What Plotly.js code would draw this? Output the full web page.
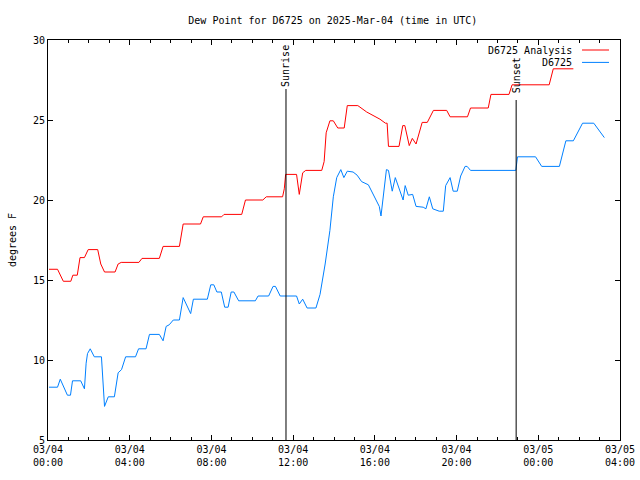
<!DOCTYPE html>
<html>
<head>
<meta charset="utf-8">
<script src="https://cdn.plot.ly/plotly-3.0.1.min.js"></script>
<style>html,body{margin:0;padding:0;background:#fff;}#chart{width:640px;height:480px;}</style>
</head>
<body>
<div id="chart"></div>
<script>
const analysisTimes = ["2025-03-04 00:03","2025-03-04 00:28","2025-03-04 00:45","2025-03-04 01:07","2025-03-04 01:13","2025-03-04 01:26","2025-03-04 01:34","2025-03-04 01:47","2025-03-04 01:58","2025-03-04 02:26","2025-03-04 02:35","2025-03-04 02:46","2025-03-04 03:17","2025-03-04 03:26","2025-03-04 03:35","2025-03-04 04:27","2025-03-04 04:36","2025-03-04 05:27","2025-03-04 05:38","2025-03-04 06:26","2025-03-04 06:37","2025-03-04 07:28","2025-03-04 07:36","2025-03-04 08:30","2025-03-04 08:37","2025-03-04 09:29","2025-03-04 09:40","2025-03-04 10:31","2025-03-04 10:41","2025-03-04 11:29","2025-03-04 11:34","2025-03-04 11:38","2025-03-04 12:10","2025-03-04 12:18","2025-03-04 12:28","2025-03-04 12:37","2025-03-04 13:24","2025-03-04 13:31","2025-03-04 13:37","2025-03-04 13:48","2025-03-04 13:58","2025-03-04 14:11","2025-03-04 14:30","2025-03-04 14:39","2025-03-04 15:10","2025-03-04 15:36","2025-03-04 16:15","2025-03-04 16:31","2025-03-04 16:36","2025-03-04 16:40","2025-03-04 17:11","2025-03-04 17:22","2025-03-04 17:28","2025-03-04 17:41","2025-03-04 17:50","2025-03-04 18:01","2025-03-04 18:19","2025-03-04 18:34","2025-03-04 18:52","2025-03-04 19:31","2025-03-04 19:41","2025-03-04 20:32","2025-03-04 20:41","2025-03-04 21:33","2025-03-04 21:41","2025-03-04 22:34","2025-03-04 22:43","2025-03-05 00:32","2025-03-05 00:44","2025-03-05 01:43"];
const analysisValues = [15.67,15.67,14.92,14.92,15.3,15.3,16.4,16.4,16.9,16.9,16.0,15.5,15.5,16.0,16.1,16.1,16.35,16.35,17.1,17.1,18.5,18.5,18.95,18.95,19.1,19.1,20.0,20.0,20.2,20.2,20.7,21.6,21.6,20.35,21.7,21.85,21.85,22.4,24.2,24.95,24.95,24.5,24.5,25.9,25.9,25.5,25.05,24.8,24.8,23.35,23.35,24.65,24.65,23.4,23.85,23.5,24.85,24.85,25.6,25.6,25.2,25.2,25.75,25.75,26.6,26.6,27.2,27.2,28.2,28.2];

const stationTimes = ["2025-03-04 00:03","2025-03-04 00:28","2025-03-04 00:36","2025-03-04 00:57","2025-03-04 01:06","2025-03-04 01:12","2025-03-04 01:36","2025-03-04 01:47","2025-03-04 01:52","2025-03-04 01:56","2025-03-04 02:04","2025-03-04 02:16","2025-03-04 02:37","2025-03-04 02:46","2025-03-04 02:57","2025-03-04 03:15","2025-03-04 03:26","2025-03-04 03:36","2025-03-04 03:48","2025-03-04 04:17","2025-03-04 04:26","2025-03-04 04:48","2025-03-04 04:58","2025-03-04 05:27","2025-03-04 05:38","2025-03-04 05:47","2025-03-04 05:56","2025-03-04 06:08","2025-03-04 06:26","2025-03-04 06:37","2025-03-04 06:59","2025-03-04 07:07","2025-03-04 07:48","2025-03-04 07:58","2025-03-04 08:07","2025-03-04 08:16","2025-03-04 08:29","2025-03-04 08:39","2025-03-04 08:49","2025-03-04 08:58","2025-03-04 09:06","2025-03-04 09:20","2025-03-04 10:09","2025-03-04 10:17","2025-03-04 10:48","2025-03-04 11:01","2025-03-04 11:08","2025-03-04 11:22","2025-03-04 12:10","2025-03-04 12:18","2025-03-04 12:28","2025-03-04 12:41","2025-03-04 13:07","2025-03-04 13:19","2025-03-04 13:34","2025-03-04 13:48","2025-03-04 13:58","2025-03-04 14:08","2025-03-04 14:20","2025-03-04 14:29","2025-03-04 14:39","2025-03-04 14:56","2025-03-04 15:08","2025-03-04 15:21","2025-03-04 15:41","2025-03-04 16:00","2025-03-04 16:13","2025-03-04 16:18","2025-03-04 16:26","2025-03-04 16:34","2025-03-04 16:40","2025-03-04 16:51","2025-03-04 17:00","2025-03-04 17:16","2025-03-04 17:23","2025-03-04 17:29","2025-03-04 17:38","2025-03-04 17:51","2025-03-04 18:01","2025-03-04 18:22","2025-03-04 18:30","2025-03-04 18:40","2025-03-04 18:50","2025-03-04 19:09","2025-03-04 19:21","2025-03-04 19:28","2025-03-04 19:41","2025-03-04 19:50","2025-03-04 20:02","2025-03-04 20:12","2025-03-04 20:25","2025-03-04 20:31","2025-03-04 20:41","2025-03-04 22:54","2025-03-04 22:59","2025-03-04 23:52","2025-03-05 00:10","2025-03-05 01:02","2025-03-05 01:21","2025-03-05 01:43","2025-03-05 02:10","2025-03-05 02:43","2025-03-05 03:14"];
const stationValues = [8.3,8.3,8.8,7.8,7.8,8.7,8.7,8.2,9.8,10.4,10.7,10.2,10.2,7.1,7.7,7.7,9.2,9.4,10.2,10.2,10.7,10.7,11.6,11.6,11.2,12.1,12.2,12.5,12.5,13.9,12.9,13.8,13.8,14.7,14.7,14.25,14.25,13.3,13.3,14.25,14.25,13.7,13.7,14.0,14.0,14.6,14.6,14.0,14.0,13.5,13.8,13.25,13.25,14.1,16.0,18.1,20.2,21.4,21.9,21.4,21.8,21.75,21.55,21.15,20.95,20.2,19.6,19.0,20.6,21.9,21.85,20.55,21.4,20.4,20.0,20.9,20.3,20.35,19.6,19.55,19.45,20.2,19.45,19.3,19.3,20.9,21.4,20.55,20.55,21.5,22.1,22.1,21.85,21.85,22.7,22.7,22.1,22.1,23.7,23.7,24.8,24.8,23.9];

const seriesNames = ["D6725 Analysis", "D6725"];
const sunEventTimes = ["2025-03-04 11:39", "2025-03-04 22:55"];
const sunEventLabels = ["Sunrise", "Sunset"];
const xTickVals = ["2025-03-04 00:00","2025-03-04 04:00","2025-03-04 08:00","2025-03-04 12:00","2025-03-04 16:00","2025-03-04 20:00","2025-03-05 00:00","2025-03-05 04:00"];
const xTickText = ["03/04<br>00:00","03/04<br>04:00","03/04<br>08:00","03/04<br>12:00","03/04<br>16:00","03/04<br>20:00","03/05<br>00:00","03/05<br>04:00"];
const xRange = ["2025-03-04 00:00", "2025-03-05 04:00"];
const yRange = [5, 30];

const FONT = "DejaVu Sans Mono, monospace";
const traces = [
  {x: analysisTimes, y: analysisValues, name: seriesNames[0], type: "scatter", mode: "lines",
   line: {color: "#ff0000", width: 1}, showlegend: false},
  {x: stationTimes, y: stationValues, name: seriesNames[1], type: "scatter", mode: "lines",
   line: {color: "#0080ff", width: 1}, showlegend: false}
];

const lineTops = [0.8775, 0.85];
const labelY = [0.935, 0.912];
const shapes = [];
const annotations = [];
sunEventTimes.forEach((t, i) => {
  shapes.push({type: "line", xref: "x", yref: "paper", x0: t, x1: t, y0: 0, y1: lineTops[i],
    line: {color: "#000", width: 1}});
  annotations.push({xref: "x", yref: "paper", x: t, y: labelY[i], text: sunEventLabels[i],
    textangle: -90, showarrow: false, xanchor: "center", yanchor: "middle",
    font: {family: FONT, size: 10, color: "#000"}});
});
// legend (gnuplot style: text then sample line)
const legColors = ["#ff0000", "#0080ff"];
const legY = [0.975, 0.944];
seriesNames.forEach((n, i) => {
  annotations.push({xref: "paper", yref: "paper", x: 0.9196, y: legY[i], text: n,
    showarrow: false, xanchor: "right", yanchor: "middle",
    font: {family: FONT, size: 10, color: "#000"}});
  shapes.push({type: "line", xref: "paper", yref: "paper", x0: 0.9336, x1: 0.9808, y0: legY[i], y1: legY[i],
    line: {color: legColors[i], width: 1}});
});

const layout = {
  width: 640, height: 480,
  margin: {l: 48, r: 20, t: 40, b: 40},
  paper_bgcolor: "#fff", plot_bgcolor: "#fff",
  font: {family: FONT, size: 10, color: "#000"},
  title: {text: "Dew Point for D6725 on 2025-Mar-04 (time in UTC)", x: 0.52, xanchor: "center",
    y: 0.958, yref: "container", yanchor: "middle", font: {family: FONT, size: 10, color: "#000"}},
  xaxis: {type: "date", range: xRange, tickvals: xTickVals, ticktext: xTickText,
    showgrid: false, zeroline: false, showline: true, linecolor: "#000", linewidth: 1, mirror: "ticks",
    ticks: "inside", ticklen: 5, tickcolor: "#000", tickwidth: 1,
    minor: {dtick: 3600000, ticks: "inside", ticklen: 3, tickcolor: "#000", showgrid: false},
    tickfont: {family: FONT, size: 10, color: "#000"}},
  yaxis: {range: yRange, tickvals: [5,10,15,20,25,30], showgrid: false, zeroline: false,
    showline: true, linecolor: "#000", linewidth: 1, mirror: "ticks",
    ticks: "inside", ticklen: 5, tickcolor: "#000",
    tickfont: {family: FONT, size: 10, color: "#000"},
    title: {text: "degrees F", font: {family: FONT, size: 10, color: "#000"}, standoff: 14}},
  shapes: shapes,
  annotations: annotations
};
Plotly.newPlot("chart", traces, layout, {staticPlot: true, displayModeBar: false});
</script>
</body>
</html>
